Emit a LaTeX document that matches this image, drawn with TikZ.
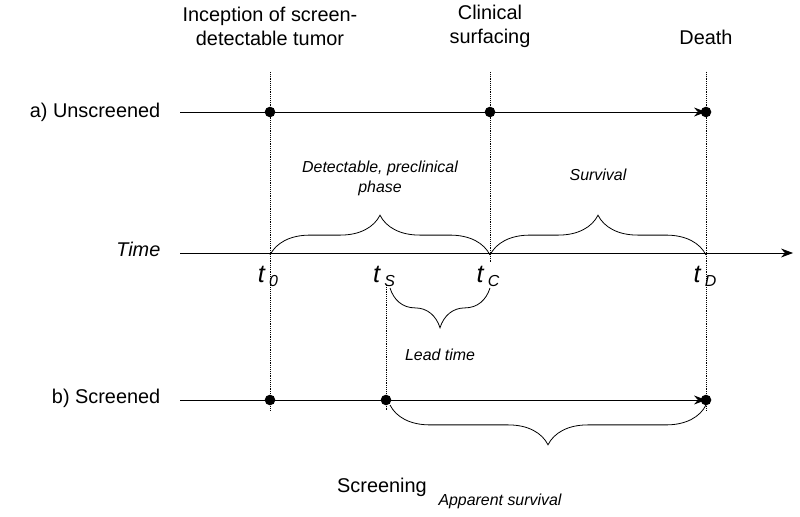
\documentclass[tikz,border=0pt]{standalone}
\usepackage{fontspec}
\setmainfont{Liberation Sans}
\usetikzlibrary{arrows.meta,positioning,decorations.pathreplacing}

\begin{document}
\begin{tikzpicture}[x=0.0265cm,y=-0.0265cm,
    dot/.style={circle,fill=black,inner sep=0pt,minimum size=8pt},
    guide/.style={densely dotted,thin},
    tl/.style={-{Stealth[length=9pt]},semithick},
    brc/.style={decorate,decoration={brace,amplitude=30pt},semithick},
    lab/.style={font=\fontsize{15}{18}\selectfont,align=center},
    itl/.style={font=\fontsize{12}{15}\selectfont\itshape,align=center},
    tsym/.style={font=\fontsize{19}{22}\selectfont\itshape}]
    \useasboundingbox (0,0) rectangle (800,517);

    % Top labels
    \node[lab] (incep) at (270,26) {Inception of screen-\\detectable tumor};
    \node[lab] (clin) at (490,26) {Clinical\\surfacing};
    \node[lab] (death) at (706,37) {Death};

    % Unscreened
    \node[lab,anchor=east] (unscr) at (165,112) {a) Unscreened};
    \coordinate (ua) at (180,112);
    \coordinate (ub) at (706,112);
    \draw[tl] (ua) -- (ub);
    \node[dot] (u0) at (270,112) {};
    \node[dot] (uc) at (490,112) {};
    \node[dot] (ud) at (706,112) {};

    % Time axis
    \node[font=\fontsize{15}{18}\selectfont\itshape,anchor=east] (time) at (165,249) {Time};
    \coordinate (ta) at (180,253);
    \coordinate (tb) at (793,253);
    \draw[tl] (ta) -- (tb);
    \node[tsym] (t0) at (268,276) {t\,\raisebox{-3pt}{\fontsize{12}{12}\selectfont 0}};
    \node[tsym] (ts) at (384,276) {t\,\raisebox{-3pt}{\fontsize{12}{12}\selectfont S}};
    \node[tsym] (tc) at (488,276) {t\,\raisebox{-3pt}{\fontsize{12}{12}\selectfont C}};
    \node[tsym] (td) at (705,276) {t\,\raisebox{-3pt}{\fontsize{12}{12}\selectfont D}};

    % Screened
    \node[lab,anchor=east] (scr) at (165,398) {b) Screened};
    \coordinate (sa) at (180,400);
    \coordinate (sb) at (706,400);
    \draw[tl] (sa) -- (sb);
    \node[dot] (s0) at (270,400) {};
    \node[dot] (ss) at (386,400) {};
    \node[dot] (sd) at (706,400) {};
    \node[lab] (screen) at (382,487) {Screening};

    % Guides
    \draw[guide] (270,72) -- (270,410);
    \draw[guide] (490,72) -- (490,262);
    \draw[guide] (706,72) -- (706,410);
    \draw[guide] (386,285) -- (386,410);

    % Braces
    \draw[brc] (270,255) -- (490,255);
    \node[itl] (pre) at (380,178) {Detectable, preclinical\\phase};
    \draw[brc] (490,255) -- (706,255);
    \node[itl] (surv) at (598,175) {Survival};
    \draw[brc] (490,288) -- (390,288);
    \node[itl] (lead) at (440,355) {Lead time};
    \draw[brc] (706,405) -- (390,405);
    \node[itl] (app) at (500,501) {Apparent survival};
\end{tikzpicture}
\end{document}
